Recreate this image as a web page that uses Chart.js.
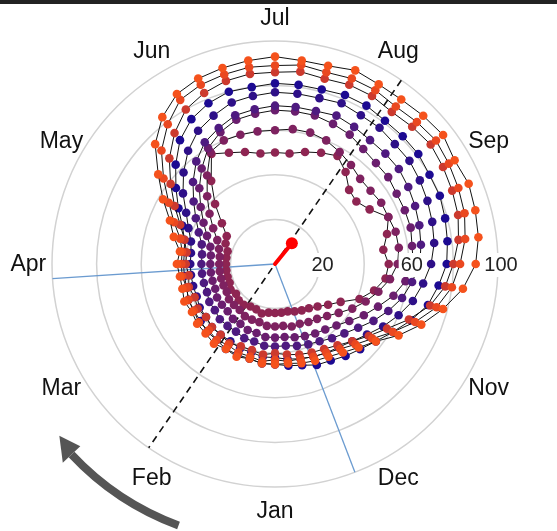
<!DOCTYPE html>
<html><head><meta charset="utf-8">
<script src="https://cdn.jsdelivr.net/npm/chart.js@4.4.1/dist/chart.umd.min.js"></script>
<style>
html,body{margin:0;padding:0;background:#fff;}
#wrap{position:relative;width:557px;height:531px;overflow:hidden;}
#bar{position:absolute;left:0;top:0;width:557px;height:4px;background:#222;z-index:2}
canvas{position:absolute;left:0;top:0}
</style></head><body>
<div id="wrap"><canvas id="c" width="557" height="531"></canvas><div id="bar"></div></div>
<script>
// ---- categories / labels ----
const months = ['Jan','Feb','Mar','Apr','May','Jun','Jul','Aug','Sep','Oct','Nov','Dec'];
const shownMonthLabels = ['Jan','Feb','Mar','Apr','May','Jun','Jul','Aug','Sep','','Nov','Dec'];
const stepsPerMonth = 4;
const categories = months.flatMap(m => ['1','2','3','4'].map(w => m + ' ' + w));
const tickLabels = [20, 60, 100];

// ---- series values ----
const s1 = [45,45,44,45,44,45,44,44,43,44,43,43,44,43,47,51,58,66,76,83,88,90,91,92,93,92,92,94,93,93,94,95,93,94,93,92,90,85,78,71,64,57,53,50,48,47,46,45];
const s2 = [43,44,43,43,42,43,42,43,42,42,41,42,42,42,44,49,55,63,72,79,85,87,88,89,89,90,89,90,90,89,90,91,90,89,88,86,83,80,75,68,61,55,51,48,46,45,44,44];
const s3 = [40,41,40,40,41,40,40,39,40,39,40,39,40,40,42,46,52,59,67,74,80,83,85,86,86,87,86,87,87,86,87,88,87,86,85,83,80,77,72,65,58,53,49,46,44,43,42,41];
const s4 = [45,45,44,44,44,43,43,42,42,42,41,41,41,41,42,45,50,56,63,70,75,78,80,80,81,81,81,82,82,81,81,81,80,80,79,78,77,74,71,66,61,57,54,52,50,49,47,46];
const s5 = [42,42,41,41,40,40,40,39,39,38,38,38,38,38,39,42,46,52,58,64,69,72,75,76,77,77,77,78,77,77,76,76,75,74,73,72,70,67,64,60,56,52,49,47,46,45,44,43];
const s6 = [37,37,36,36,35,35,35,34,34,33,33,33,33,33,34,37,41,46,52,58,63,66,69,70,71,71,71,72,71,70,70,70,69,68,67,66,65,62,59,55,51,47,44,42,40,39,38,37];
const s7 = [33,33,32,32,31,31,30,30,30,29,29,29,29,29,30,33,37,42,48,54,60,64,67,68,69,69,69,68,67,65,64,64,63,63,63,62,62,59,55,50,46,42,39,37,36,35,34,33];
const s8 = [28,28,27,27,27,26,26,26,25,25,25,25,25,25,26,28,32,37,43,50,58,60,60,60,60,61,61,60,58,56,54,54,55,55,56,56,55,52,48,44,40,36,33,31,30,29,29,28];
const s9 = [22,22,23,22,22,23,23,22,23,22,22,22,22,22,22,24,25,30,38,47,57,54,52,50,50,50,52,54,56,52,47,46,49,55,52,49,51,50,46,41,34,30,27,25,24,23,22,22];
const seriesValues = [s1,s2,s3,s4,s5,s6,s7,s8,s9];
const seriesNames = ['Series 1','Series 2','Series 3','Series 4','Series 5','Series 6','Series 7','Series 8','Series 9'];

// ---- summary marks (positions in category-index units and scale values) ----
const boundaryIdx = [11.5, 45.2];
const axisIdx = 28.6;
const meanIdx = 29.2;
const meanLength = 12;
const directionArc = [2.7, 6.25, 6.86]; // start, head base, tip (category index)

const colors = ['#F5521C','#EA4820','#CC3A2E','#1C0A92','#2E1088','#4E1A80','#6A1E6E','#7E2260','#8E2552'];

const overlay = {
  id: 'overlay',
  beforeDatasetsDraw(chart) {
    const s = chart.scales.r, ctx = chart.ctx;
    ctx.save();
    ctx.lineWidth = 1.3; ctx.strokeStyle = '#6b9bd0';
    for (const ix of boundaryIdx) {
      const p = s.getPointPositionForValue(ix, 100);
      ctx.beginPath(); ctx.moveTo(s.xCenter, s.yCenter); ctx.lineTo(p.x, p.y); ctx.stroke();
    }
    const a = s.getPointPositionForValue(axisIdx, 100);
    const b = s.getPointPositionForValue(axisIdx + categories.length / 2, 100);
    ctx.setLineDash([7, 5]); ctx.strokeStyle = '#111'; ctx.lineWidth = 1.6;
    ctx.beginPath(); ctx.moveTo(a.x, a.y); ctx.lineTo(b.x, b.y); ctx.stroke();
    ctx.restore();
  },
  afterDatasetsDraw(chart) {
    const s = chart.scales.r, ctx = chart.ctx;
    ctx.save();
    // mean vector
    const m = s.getPointPositionForValue(meanIdx, meanLength);
    ctx.strokeStyle = '#ff0000'; ctx.fillStyle = '#ff0000'; ctx.lineWidth = 4; ctx.lineCap = 'round';
    ctx.beginPath(); ctx.moveTo(s.xCenter, s.yCenter); ctx.lineTo(m.x, m.y); ctx.stroke();
    ctx.beginPath(); ctx.arc(m.x, m.y, 6, 0, Math.PI * 2); ctx.fill();
    // tick labels
    ctx.font = '20px "Liberation Sans", Arial, sans-serif';
    ctx.textAlign = 'center'; ctx.textBaseline = 'middle';
    for (const v of tickLabels) {
      const p = s.getPointPositionForValue(36, v);
      const x = p.x + 3, y = p.y + 1;
      const w = ctx.measureText(String(v)).width;
      ctx.fillStyle = '#fff'; ctx.fillRect(x - w / 2 - 2, y - 12, w + 4, 24);
      ctx.fillStyle = '#222'; ctx.fillText(String(v), x, y);
    }
    // month labels
    ctx.font = '23px "Liberation Sans", Arial, sans-serif';
    ctx.fillStyle = '#111';
    const dL = s.getDistanceFromCenterForValue(110.6);
    shownMonthLabels.forEach((t, i) => {
      if (!t) return;
      const p = s.getPointPosition(i * stepsPerMonth, dL);
      ctx.fillText(t, p.x, p.y + 1);
    });
    // direction arrow
    const R = s.getDistanceFromCenterForValue(125);
    const a1 = s.getIndexAngle(directionArc[0]) - Math.PI / 2;
    const a2 = s.getIndexAngle(directionArc[1]) - Math.PI / 2;
    ctx.strokeStyle = '#555'; ctx.fillStyle = '#555'; ctx.lineWidth = 8; ctx.lineCap = 'butt';
    ctx.beginPath(); ctx.arc(s.xCenter, s.yCenter, R, a1, a2, false); ctx.stroke();
    const tip = s.getPointPosition(directionArc[2], R - 3);
    const bl = s.getPointPosition(directionArc[1], R - 12);
    const br = s.getPointPosition(directionArc[1], R + 12);
    ctx.beginPath(); ctx.moveTo(tip.x, tip.y); ctx.lineTo(bl.x, bl.y); ctx.lineTo(br.x, br.y); ctx.closePath(); ctx.fill();
    ctx.restore();
  }
};

new Chart(document.getElementById('c'), {
  type: 'radar',
  data: {
    labels: categories,
    datasets: seriesValues.map((d, k) => ({
      label: seriesNames[k], data: d,
      borderColor: '#111', borderWidth: 1,
      pointBackgroundColor: colors[k], pointBorderColor: colors[k], pointBorderWidth: 0,
      pointRadius: 4.3, fill: false, tension: 0
    }))
  },
  options: {
    responsive: false, animation: false,
    layout: { padding: { left: 52, right: 59, top: 41, bottom: 44 } },
    plugins: { legend: { display: false }, tooltip: { enabled: false } },
    scales: {
      r: {
        min: 0, max: 100, startAngle: 180,
        ticks: { display: false, stepSize: 20 },
        grid: { circular: true, color: '#d2d2d2', lineWidth: 1.5 },
        angleLines: { display: false },
        pointLabels: { display: false }
      }
    }
  },
  plugins: [overlay]
});
</script></body></html>
